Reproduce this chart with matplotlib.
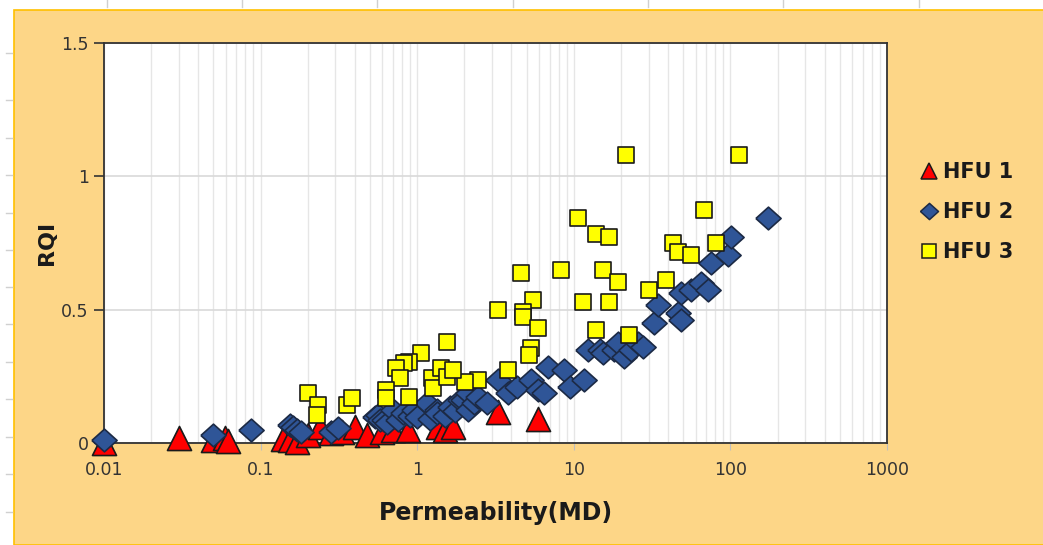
import matplotlib
matplotlib.use("Agg")
import matplotlib.pyplot as plt
from matplotlib.patches import Rectangle
from matplotlib.lines import Line2D
import numpy as np

# ---------------- data ----------------
hfu1_k = [0.01, 0.03, 0.05, 0.059, 0.062, 0.14, 0.155, 0.17, 0.2, 0.24, 0.28,
          0.33, 0.40, 0.48, 0.6, 0.70, 0.87, 1.35, 1.5, 1.7, 3.3, 5.9]
hfu1_rqi = [0.0, 0.02, 0.012, 0.02, 0.008, 0.015, 0.012, 0.005, 0.03, 0.06, 0.037,
            0.04, 0.06, 0.03, 0.04, 0.05, 0.05, 0.06, 0.05, 0.06, 0.115, 0.09]

hfu2_k = [0.01, 0.050, 0.087, 0.155, 0.16, 0.17, 0.18, 0.28, 0.31, 0.54, 0.56, 0.58,
          0.61, 0.64, 0.70, 0.75, 0.81, 0.9, 0.95, 1.0, 1.16, 1.2, 1.34, 1.34, 1.5,
          1.63, 1.75, 1.89, 1.97, 2.1, 2.1, 2.3, 2.43, 2.81, 3.26, 3.78, 4.37, 5.3,
          5.87, 6.41, 6.8, 8.6, 9.5, 11.6, 12.3, 14.8, 15.4, 18.0, 19.1, 20.8, 23.1,
          25.6, 27.6, 32.4, 34.4, 46.1, 48.2, 48.2, 55.8, 64.7, 71.7, 75.0, 96.2,
          100.6, 173.0]
hfu2_rqi = [0.011, 0.03, 0.049, 0.067, 0.06, 0.049, 0.041, 0.041, 0.056, 0.097, 0.105, 0.086,
            0.086, 0.075, 0.124, 0.086, 0.112, 0.10, 0.124, 0.097, 0.15, 0.09, 0.124, 0.112, 0.10,
            0.135, 0.12, 0.161, 0.161, 0.124, 0.187, 0.15, 0.172, 0.15, 0.236, 0.187, 0.21, 0.236,
            0.199, 0.187, 0.285, 0.274, 0.21, 0.236, 0.349, 0.349, 0.337, 0.349, 0.375, 0.322, 0.349,
            0.375, 0.36, 0.45, 0.517, 0.487, 0.461, 0.562, 0.574, 0.60, 0.574, 0.675, 0.705,
            0.772, 0.844]

hfu3_k = [21.4, 113.0, 10.7, 67.6, 13.8, 16.7, 42.8, 46.1, 55.8, 80.7, 8.24, 4.57,
          15.3, 19.1, 38.6, 30.1, 3.26, 5.45, 4.71, 4.71, 11.4, 16.7, 5.87, 13.8,
          22.4, 1.56, 5.3, 5.14, 3.78, 2.43, 2.03, 1.05, 0.88, 0.82, 0.73, 0.78,
          0.63, 0.63, 0.88, 1.25, 1.27, 1.41, 1.56, 1.70, 0.201, 0.233, 0.23,
          0.358, 0.386]
hfu3_rqi = [1.08, 1.08, 0.844, 0.874, 0.784, 0.772, 0.75, 0.716, 0.705, 0.75, 0.649, 0.637,
            0.649, 0.604, 0.611, 0.574, 0.499, 0.536, 0.491, 0.472, 0.529, 0.529, 0.431, 0.424,
            0.405, 0.379, 0.356, 0.33, 0.274, 0.236, 0.229, 0.337, 0.304, 0.30, 0.281, 0.244,
            0.199, 0.169, 0.172, 0.244, 0.206, 0.281, 0.247, 0.274, 0.187, 0.142, 0.105,
            0.142, 0.169]

series_labels = ["HFU 1", "HFU 2", "HFU 3"]
x_ticks = [0.01, 0.1, 1, 10, 100, 1000]
x_ticklabels = ["0.01", "0.1", "1", "10", "100", "1000"]
y_ticks = [0, 0.5, 1, 1.5]
y_ticklabels = ["0", "0.5", "1", "1.5"]

# ---------------- figure ----------------
FONT = "DejaVu Sans"
W, H = 1043, 545
fig = plt.figure(figsize=(W / 100, H / 100), dpi=100)
fig.patch.set_facecolor("white")

# orange chart area with golden border
bg = Rectangle((14 / W, 0), 1 - 14 / W + 0.01, (H - 10) / H, transform=fig.transFigure,
               facecolor="#FDD687", edgecolor="#FFC000", linewidth=1.2, zorder=-10)
fig.patches.append(bg)
# spreadsheet margin marks
for xp in [107, 242, 377, 513, 648, 783, 919]:
    fig.add_artist(Line2D([xp / W, xp / W], [1, 1 - 7 / H], transform=fig.transFigure,
                          color="#D0D0D0", lw=1))
for yp in [53, 100, 138, 175, 213, 250, 287, 324, 362, 399, 437, 474, 512]:
    fig.add_artist(Line2D([6 / W, 12 / W], [1 - yp / H, 1 - yp / H], transform=fig.transFigure,
                          color="#D0D0D0", lw=1))

ax = fig.add_axes([104 / W, (H - 443) / H, (887 - 104) / W, (443 - 43) / H])
ax.set_facecolor("white")
ax.set_xscale("log")
ax.set_xlim(0.01, 1000)
ax.set_ylim(0, 1.5)

ax.grid(True, which="both", axis="x", color="#E6E6E6", lw=1, zorder=0)
ax.grid(True, which="major", axis="y", color="#D9D9D9", lw=1.2, zorder=0)
ax.set_axisbelow(True)

diamond = [(-1, 0), (0, 0.9), (1, 0), (0, -0.9), (-1, 0)]

ax.scatter(hfu1_k, hfu1_rqi, marker="^", s=300, facecolor="#FF0000",
           edgecolor="#1A1A1A", linewidth=1.2, zorder=3, clip_on=False, label=series_labels[0])
ax.scatter(hfu2_k, hfu2_rqi, marker=diamond, s=330, facecolor="#2F5597",
           edgecolor="#1C2A45", linewidth=1.2, zorder=4, clip_on=False, label=series_labels[1])
ax.scatter(hfu3_k, hfu3_rqi, marker="s", s=125, facecolor="#FFFF00",
           edgecolor="#1A1A1A", linewidth=1.2, zorder=5, clip_on=False, label=series_labels[2])

for side in ["left", "top", "right", "bottom"]:
    ax.spines[side].set_color("#333333")
    ax.spines[side].set_linewidth(1.3)
ax.spines["bottom"].set_zorder(2)

ax.set_xticks(x_ticks)
ax.set_xticklabels(x_ticklabels)
ax.xaxis.set_minor_formatter(plt.NullFormatter())
ax.tick_params(axis="x", which="major", direction="out", length=5, color="#BFBFBF",
               labelsize=12.5, labelcolor="#333333", pad=8)
ax.tick_params(axis="x", which="minor", length=0)
ax.set_yticks(y_ticks)
ax.set_yticklabels(y_ticklabels)
ax.tick_params(axis="y", direction="out", length=7, color="#333333", width=1.2,
               labelsize=12.5, labelcolor="#333333", pad=4)
for lab in ax.get_xticklabels() + ax.get_yticklabels():
    lab.set_fontfamily(FONT)

ax.set_xlabel("Permeability(MD)", fontsize=17, fontweight="bold", fontfamily=FONT,
              color="#1A1A1A", labelpad=16)
ax.set_ylabel("RQI", fontsize=16, fontweight="bold", fontfamily=FONT,
              color="#1A1A1A", labelpad=3)

handles = [
    Line2D([], [], ls="none", marker="^", ms=12, mfc="#FF0000", mec="#1A1A1A", mew=1.1),
    Line2D([], [], ls="none", marker=diamond, ms=13, mfc="#2F5597", mec="#1C2A45", mew=1.1),
    Line2D([], [], ls="none", marker="s", ms=10, mfc="#FFFF00", mec="#1A1A1A", mew=1.1),
]
leg = fig.legend(handles, series_labels, loc="center left",
                 bbox_to_anchor=(910 / W, 1 - 212 / H), frameon=False,
                 prop={"family": FONT, "weight": "bold", "size": 15},
                 handlelength=0.8, handletextpad=0.3, labelspacing=0.95,
                 borderpad=0)
for t in leg.get_texts():
    t.set_color("#1A1A1A")

fig.savefig("out.png", dpi=100, facecolor=fig.get_facecolor())
